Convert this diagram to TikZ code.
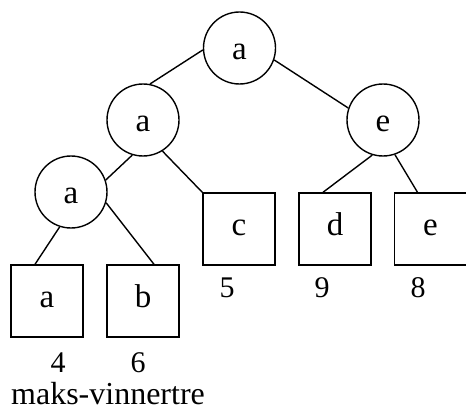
\documentclass[tikz,border=0pt]{standalone}
\usepackage{fontspec}
\setmainfont{Liberation Serif}
\begin{document}
\begin{tikzpicture}[x=1pt,y=-1pt,
  treeline/.style={line width=1.4pt},
  inner/.style={circle,draw,line width=1.4pt,minimum size=72pt,inner sep=0pt,
    text height=22.6pt,text depth=0pt,font=\fontsize{33}{33}\selectfont},
  leaf/.style={rectangle,draw,line width=1.4pt,minimum size=72pt,inner sep=0pt,
    text height=12pt,text depth=0pt,font=\fontsize{33}{33}\selectfont},
  weight/.style={inner sep=0pt,font=\fontsize{30}{30}\selectfont},
  caption/.style={inner sep=0pt,anchor=base,font=\fontsize{32}{32}\selectfont}]
\useasboundingbox (0,0) rectangle (466,409);

% internal nodes of the winner tree
\node[inner] (r)  at (239.5,48) {a\hspace{8pt}};
\node[inner] (a2) at (143,120)  {a\hspace{8pt}};
\node[inner] (e1) at (383,120)  {e\hspace{8pt}};
\node[inner] (a3) at (71,192)   {a\hspace{8pt}};

% leaves
\node[leaf] (c)  at (239,229)   {c\hspace{15pt}};
\node[leaf] (d)  at (335,229)   {d\hspace{15pt}};
\node[leaf] (e2) at (430.5,229) {e\hspace{15pt}};
\node[leaf] (la) at (47,301)    {a\hspace{15pt}};
\node[leaf] (lb) at (143,301)   {b\hspace{15pt}};

% edges
\draw[treeline] (r.183)  -- (a2.79);
\draw[treeline] (r.-19)  -- (e1.161);
\draw[treeline] (a2.253) -- (a3.19);
\draw[treeline] (a2.-58) -- (c.north west);
\draw[treeline] (e1.253) -- ([xshift=-12pt]d.north);
\draw[treeline] (e1.-71) -- ([xshift=-13pt]e2.north);
\draw[treeline] (a3.252) -- ([xshift=-12pt]la.north);
\draw[treeline] (a3.-17) -- ([xshift=11pt]lb.north);

% leaf values
\node[weight] (w5) at (227,288) {5};
\node[weight] (w9) at (322,288) {9};
\node[weight] (w8) at (418,288) {8};
\node[weight] (w4) at (58,363)  {4};
\node[weight] (w6) at (138,363) {6};

\node[caption] (cap) at (108,404) {maks-vinnertre};
\end{tikzpicture}
\end{document}
